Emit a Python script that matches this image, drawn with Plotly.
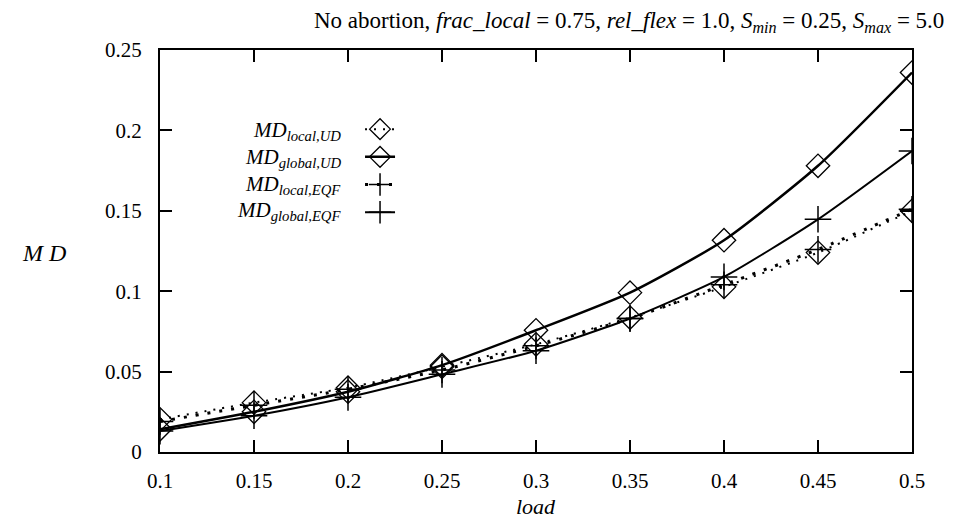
import plotly.graph_objects as go

load = [0.1, 0.15, 0.2, 0.25, 0.3, 0.35, 0.4, 0.45, 0.5]
md_local_ud = [0.0203, 0.0307, 0.0400, 0.0530, 0.0670, 0.0836, 0.1027, 0.1240, 0.1500]
md_global_ud = [0.0141, 0.0250, 0.0375, 0.0540, 0.0757, 0.0991, 0.1317, 0.1780, 0.2360]
md_local_eqf = [0.0190, 0.0290, 0.0390, 0.0510, 0.0660, 0.0830, 0.1040, 0.1260, 0.1510]
md_global_eqf = [0.0130, 0.0225, 0.0340, 0.0483, 0.0630, 0.0830, 0.1089, 0.1447, 0.1872]

x_ticks = [0.1, 0.15, 0.2, 0.25, 0.3, 0.35, 0.4, 0.45, 0.5]
y_ticks = [0, 0.05, 0.1, 0.15, 0.2, 0.25]

labels = [
    "<i>MD</i><sub><i>local,UD</i></sub>",
    "<i>MD</i><sub><i>global,UD</i></sub>",
    "<i>MD</i><sub><i>local,EQF</i></sub>",
    "<i>MD</i><sub><i>global,EQF</i></sub>",
]

SERIF = "Liberation Serif, Times New Roman, serif"
fig = go.Figure()

series = [
    (md_local_ud, dict(color="black", width=2, dash="2px,7px"), dict(symbol="diamond-open", size=18, line=dict(width=1.3, color="black"))),
    (md_global_ud, dict(color="black", width=2.5), dict(symbol="diamond-open", size=18, line=dict(width=1.3, color="black"))),
    (md_local_eqf, dict(color="black", width=3, dash="3px,9px"), dict(symbol="cross-thin", size=19, line=dict(width=1.5, color="black"))),
    (md_global_eqf, dict(color="black", width=2), dict(symbol="cross-thin", size=19, line=dict(width=1.5, color="black"))),
]
for vals, ln, mk in series:
    fig.add_trace(go.Scatter(x=load, y=vals, mode="lines+markers", name="\u00a0",
                             line=dict(shape="spline", smoothing=0.6, **ln), marker=mk))

axis_common = dict(showline=True, linecolor="black", linewidth=2, mirror="ticks",
                   ticks="inside", ticklen=12, tickwidth=2, tickcolor="black",
                   showgrid=False, zeroline=False,
                   tickfont=dict(family=SERIF, size=21, color="black"))

fig.update_xaxes(range=[0.1, 0.5], tickvals=x_ticks, ticktext=[str(v) for v in x_ticks],
                 ticklabelstandoff=9, **axis_common)
fig.update_yaxes(range=[0, 0.25], tickvals=y_ticks, ticktext=[str(v) for v in y_ticks],
                 ticklabelstandoff=12, **axis_common)

title = ("No abortion, <i>frac_local</i> = 0.75, <i>rel_flex</i> = 1.0, "
         "<i>S</i><sub><i>min</i></sub> = 0.25, <i>S</i><sub><i>max</i></sub> = 5.0")

fig.update_layout(
    width=956, height=519,
    margin=dict(l=152, r=52, t=42, b=75),
    paper_bgcolor="white", plot_bgcolor="white",
    showlegend=True,
    legend=dict(x=0.266, y=0.85, xanchor="left", yanchor="top",
                bgcolor="rgba(0,0,0,0)", font=dict(family=SERIF, size=19),
                itemwidth=30, tracegroupgap=0),
)

fig.add_annotation(text=title, xref="paper", yref="paper", x=1.045, y=1.0,
                   xanchor="right", yanchor="bottom", yshift=12, showarrow=False,
                   font=dict(family=SERIF, size=23, color="black"))

label_y = [0.7985, 0.731, 0.664, 0.599]
for txt, yy in zip(labels, label_y):
    fig.add_annotation(text=txt, xref="paper", yref="paper", x=0.2434, y=yy,
                       xanchor="right", yanchor="middle", showarrow=False,
                       font=dict(family=SERIF, size=21, color="black"))

fig.add_annotation(text="<i>M D</i>", xref="paper", yref="paper", x=-0.186, y=0.495,
                   xanchor="left", yanchor="middle", showarrow=False,
                   font=dict(family=SERIF, size=24, color="black"))
fig.add_annotation(text="<i>load</i>", xref="paper", yref="paper", x=0.5, y=-0.136,
                   xanchor="center", yanchor="middle", showarrow=False,
                   font=dict(family=SERIF, size=22, color="black"))

fig.write_html("out.html")
